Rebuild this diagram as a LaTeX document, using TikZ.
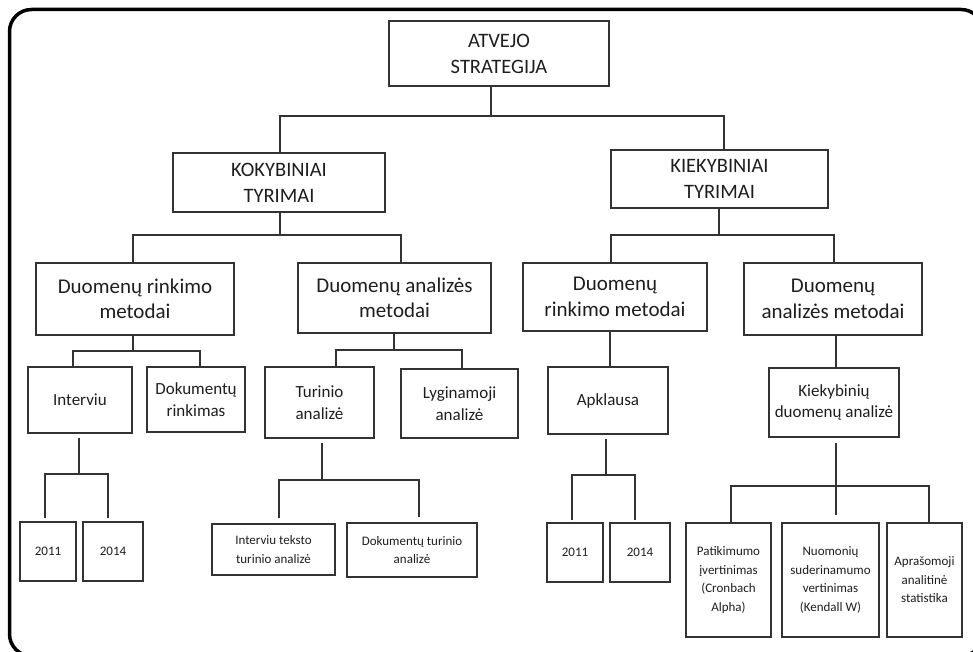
\documentclass[tikz,border=0pt]{standalone}
\usepackage{fontspec}
\setmainfont{Carlito}
\definecolor{linegray}{HTML}{333333}
\definecolor{textgray}{HTML}{1E1E1E}
\begin{document}
\begin{tikzpicture}[x=1pt,y=-1pt,
  box/.style={draw=linegray, line width=1.3pt, inner sep=2pt, align=center, text=textgray},
  lvlone/.style={box, font=\fontsize{20.5}{26}\selectfont},
  lvltwo/.style={box, font=\fontsize{21}{25.5}\selectfont},
  lvlthree/.style={box, font=\fontsize{17}{21.5}\selectfont},
  lvlfour/.style={box, font=\fontsize{13}{18.5}\selectfont},
  link/.style={draw=linegray, line width=1.3pt},
  sz/.style 2 args={minimum width=#1pt, minimum height=#2pt},
]
\useasboundingbox (0,0) rectangle (973,652);

% outer frame
\draw[line width=3.5pt, rounded corners=22pt] (9.5,9.5) rectangle (983,656);

% level 1
\node[lvlone, sz={220}{65}] (atvejo) at (499,53.5) {ATVEJO\\STRATEGIJA};

% level 2
\node[lvlone, sz={212}{59}] (kok)  at (279,182.5) {KOKYBINIAI\\TYRIMAI};
\node[lvlone, sz={217}{58}] (kiek) at (719.5,179) {KIEKYBINIAI\\TYRIMAI};

% level 3
\node[lvltwo, sz={198}{72}] (drL) at (135,299)   {Duomenų rinkimo\\metodai};
\node[lvltwo, sz={193}{70}] (daL) at (394.5,298) {Duomenų analizės\\metodai};
\node[lvltwo, sz={184}{68}] (drR) at (615,297)   {Duomenų\\rinkimo metodai};
\node[lvltwo, sz={178}{72}] (daR) at (833,299)   {Duomenų\\analizės metodai};

% level 4
\node[lvlthree, sz={104}{66}] (interviu) at (80,400)      {Interviu};
\node[lvlthree, sz={98}{65}]  (dokr)     at (196,399.5)   {Dokumentų\\rinkimas};
\node[lvlthree, sz={109}{71}] (turinio)  at (319.5,402.5) {Turinio\\analizė};
\node[lvlthree, sz={117}{69}] (lygin)    at (459.5,403.5) {Lyginamoji\\analizė};
\node[lvlthree, sz={120}{67}] (apkl)     at (608,400.5)   {Apklausa};
\node[lvlthree, sz={130}{69}] (kiekd)    at (834,402.5)   {Kiekybinių\\duomenų analizė};

% level 5
\node[lvlfour, sz={56}{59}]   (ya11)  at (48,551.5)    {2011};
\node[lvlfour, sz={60}{59}]   (ya14)  at (113,551.5)   {2014};
\node[lvlfour, sz={123}{51}]  (itta)  at (273.5,549.5) {Interviu teksto\\turinio analizė};
\node[lvlfour, sz={130}{54}]  (dta)   at (412,550)     {Dokumentų turinio\\analizė};
\node[lvlfour, sz={56}{59}]   (yb11)  at (575,552.5)   {2011};
\node[lvlfour, sz={60}{59}]   (yb14)  at (640,552.5)   {2014};
\node[lvlfour, sz={85}{114}]  (patik) at (728.5,580)   {Patikimumo\\įvertinimas\\(Cronbach\\Alpha)};
\node[lvlfour, sz={97}{114}]  (nuom)  at (830.5,580)   {Nuomonių\\suderinamumo\\vertinimas\\(Kendall W)};
\node[lvlfour, sz={75}{114}]  (apras) at (924.5,580)   {Aprašomoji\\analitinė\\statistika};

% bus junctions: stem point, left end, right end
\coordinate (s1) at (491,116); \coordinate (l1) at (280,116); \coordinate (r1) at (724,116);
\coordinate (s2) at (280,235); \coordinate (l2) at (133,235); \coordinate (r2) at (401,235);
\coordinate (s3) at (719,235); \coordinate (l3) at (611,235); \coordinate (r3) at (834,235);
\coordinate (s4) at (133,351); \coordinate (l4) at (73,351);  \coordinate (r4) at (200,351);
\coordinate (s5) at (394,350); \coordinate (l5) at (336,350); \coordinate (r5) at (462,350);
\coordinate (s6) at (79,474);  \coordinate (l6) at (45,474);  \coordinate (r6) at (108,474);
\coordinate (s7) at (322,480); \coordinate (l7) at (279,480); \coordinate (r7) at (419,480);
\coordinate (s8) at (606,475); \coordinate (l8) at (572,475); \coordinate (r8) at (635,475);
\coordinate (s9) at (836,486); \coordinate (l9) at (731,486); \coordinate (r9) at (929,486);
\coordinate (c6) at (610,0);

% strategy -> research types
\draw[link] (atvejo.south -| s1) -- (s1);
\draw[link] (kok.north -| l1) -- (l1) -- (r1) -- (kiek.north -| r1);

% qualitative research -> methods
\draw[link] (kok.south -| s2) -- (s2);
\draw[link] (drL.north -| l2) -- (l2) -- (r2) -- (daL.north -| r2);

% quantitative research -> methods
\draw[link] (kiek.south -| s3) -- (s3);
\draw[link] (drR.north -| l3) -- (l3) -- (r3) -- (daR.north -| r3);

% qualitative collection methods
\draw[link] (drL.south -| s4) -- (s4);
\draw[link] (interviu.north -| l4) -- (l4) -- (r4) -- (dokr.north -| r4);

% qualitative analysis methods
\draw[link] (daL.south -| s5) -- (s5);
\draw[link] (turinio.north -| l5) -- (l5) -- (r5) -- (lygin.north -| r5);

% quantitative collection and analysis
\draw[link] (drR.south -| c6) -- (apkl.north -| c6);
\draw[link] (daR.south -| s9) -- (kiekd.north -| s9);

% interview years
\draw[link, shorten <=4pt] (interviu.south -| s6) -- (s6);
\draw[link, shorten <=3pt, shorten >=3pt] (ya11.north -| l6) -- (l6) -- (r6) -- (ya14.north -| r6);

% content analysis branches
\draw[link, shorten <=4pt] (turinio.south -| s7) -- (s7);
\draw[link, shorten <=5pt, shorten >=5pt] (itta.north -| l7) -- (l7) -- (r7) -- (dta.north -| r7);

% survey years
\draw[link, shorten <=4pt] (apkl.south -| s8) -- (s8);
\draw[link, shorten <=2pt, shorten >=2pt] (yb11.north -| l8) -- (l8) -- (r8) -- (yb14.north -| r8);

% statistical analysis branches
\draw[link, shorten <=5pt, shorten >=7pt] (kiekd.south -| s9) -- (nuom.north -| s9);
\draw[link] (patik.north -| l9) -- (l9) -- (r9) -- (apras.north -| r9);
\end{tikzpicture}
\end{document}
